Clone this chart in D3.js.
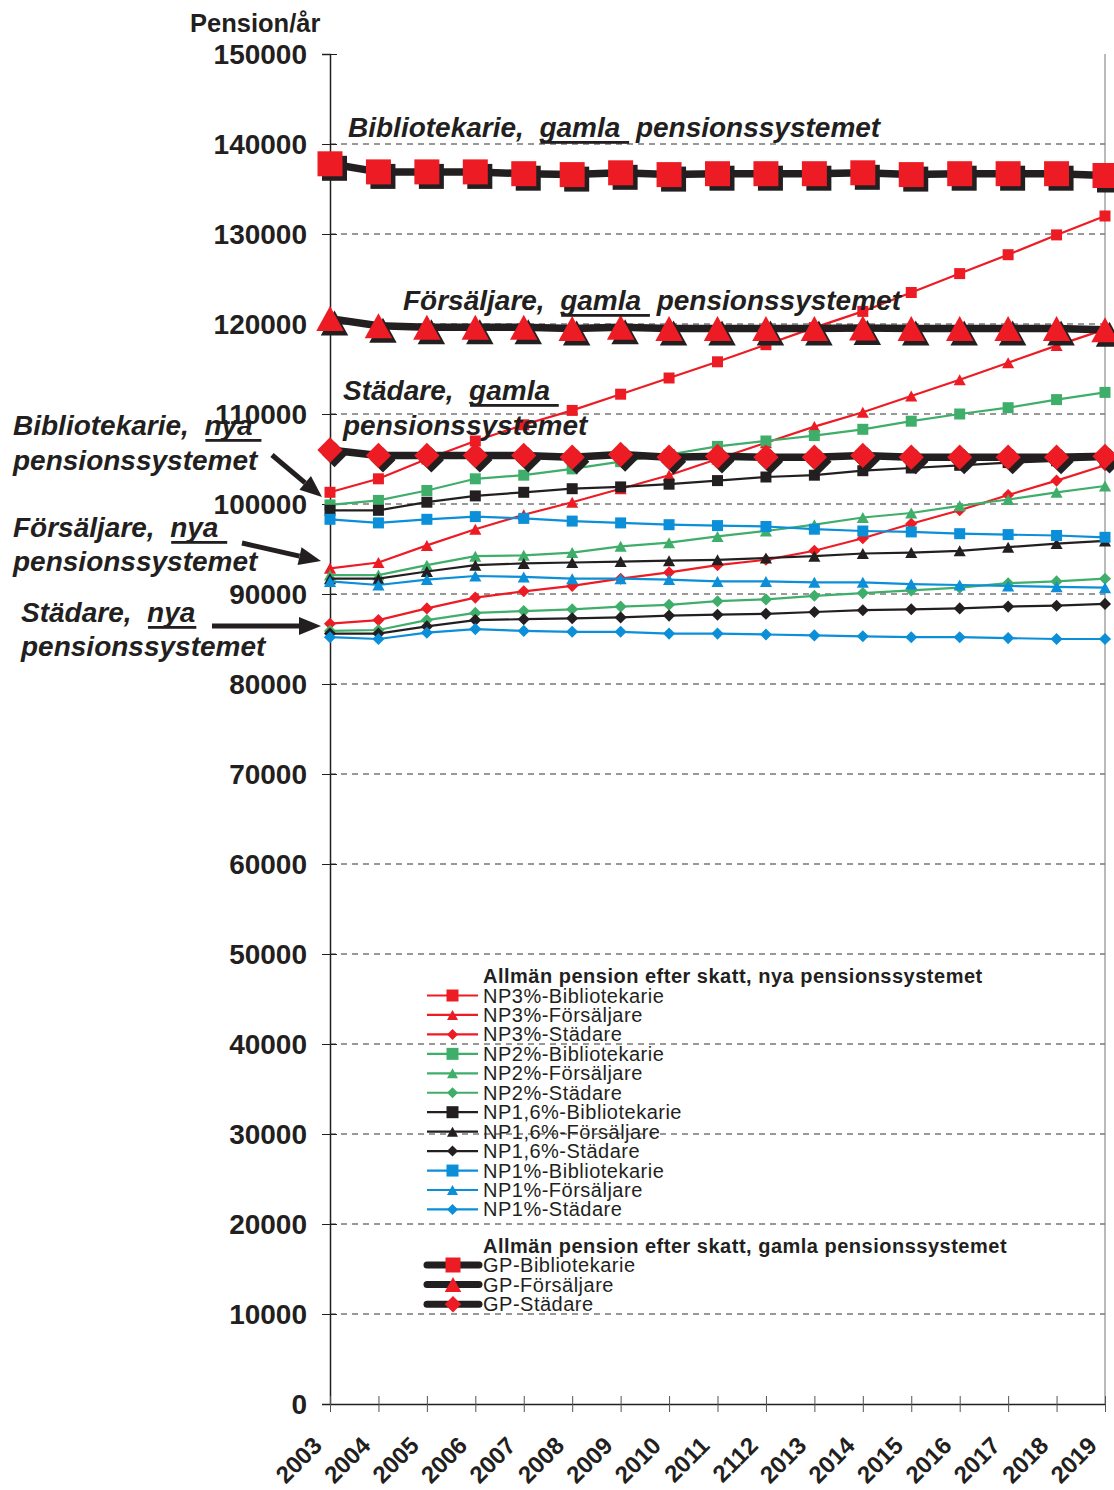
<!DOCTYPE html>
<html>
<head>
<meta charset="utf-8">
<script src="https://cdn.jsdelivr.net/npm/d3@7"></script>
<style>
  body { margin: 0; background: #fff; }
  svg { display: block; }
  text { font-family: "Liberation Sans", Arial, sans-serif; fill: #231f20; }
</style>
</head>
<body>
<svg id="chart" width="1114" height="1490"></svg>
<script>
// ---- data -------------------------------------------------------------
const years = ["2003","2004","2005","2006","2007","2008","2009","2010","2011",
               "2112","2013","2014","2015","2016","2017","2018","2019"];
const yTicks = [0,10000,20000,30000,40000,50000,60000,70000,80000,90000,
                100000,110000,120000,130000,140000,150000];

// Allmän pension efter skatt, nya pensionssystemet
const np3Bib  = [101300,102800,105000,107000,108800,110400,112200,114000,115800,117700,119600,121400,123500,125600,127700,129900,132000];
const np3For  = [92850,93500,95400,97200,98800,100200,101700,103200,105000,106800,108600,110200,112000,113800,115700,117600,119400];
const np3Sta  = [86700,87100,88400,89600,90300,90900,91700,92400,93200,93800,94800,96200,97800,99300,101000,102600,104300];
const np2Bib  = [99900,100400,101500,102800,103200,103900,104700,105500,106400,107000,107600,108300,109200,110000,110700,111600,112400];
const np2For  = [92100,92100,93200,94200,94300,94600,95300,95700,96400,97000,97700,98500,99000,99800,100500,101300,102000];
const np2Sta  = [85900,86000,87100,87900,88100,88300,88600,88800,89200,89400,89800,90100,90400,90700,91200,91400,91700];
const np16Bib = [99300,99300,100200,100900,101300,101700,101900,102200,102600,103000,103200,103700,104000,104300,104600,104800,105000];
const np16For = [91700,91700,92500,93200,93400,93500,93600,93700,93800,94000,94200,94500,94600,94800,95200,95600,95900];
const np16Sta = [85600,85600,86400,87100,87200,87300,87400,87600,87700,87800,88000,88200,88300,88400,88600,88700,88900];
const np1Bib  = [98300,97900,98300,98600,98400,98100,97900,97700,97600,97500,97200,97000,96900,96700,96600,96500,96300];
const np1For  = [91400,91000,91600,92000,91900,91700,91700,91600,91400,91400,91300,91300,91100,91000,90900,90800,90700];
const np1Sta  = [85200,85000,85700,86100,85900,85800,85800,85600,85600,85500,85400,85300,85200,85200,85100,85000,85000];

// Allmän pension efter skatt, gamla pensionssystemet
const gpBib = [137800,136900,136900,136900,136700,136600,136800,136600,136700,136700,136700,136800,136600,136700,136700,136700,136500];
const gpFor = [120600,119800,119650,119650,119650,119500,119650,119500,119500,119500,119500,119550,119500,119500,119500,119500,119350];
const gpSta = [106000,105400,105400,105400,105400,105200,105500,105200,105300,105200,105200,105400,105200,105200,105200,105200,105300];

const legendTitleNew = "Allmän pension efter skatt, nya pensionssystemet";
const legendTitleOld = "Allmän pension efter skatt, gamla pensionssystemet";
const yTitle = "Pension/år";

// ---- styling ----------------------------------------------------------
const RED = "#ed1c24", GREEN = "#3fae6a", BLACK = "#231f20", BLUE = "#0a8fd8";

const npSeries = [
  { name: "NP3%-Bibliotekarie",   color: RED,   shape: "square",   values: np3Bib },
  { name: "NP3%-Försäljare",      color: RED,   shape: "triangle", values: np3For },
  { name: "NP3%-Städare",         color: RED,   shape: "diamond",  values: np3Sta },
  { name: "NP2%-Bibliotekarie",   color: GREEN, shape: "square",   values: np2Bib },
  { name: "NP2%-Försäljare",      color: GREEN, shape: "triangle", values: np2For },
  { name: "NP2%-Städare",         color: GREEN, shape: "diamond",  values: np2Sta },
  { name: "NP1,6%-Bibliotekarie", color: BLACK, shape: "square",   values: np16Bib },
  { name: "NP1,6%-Försäljare",    color: BLACK, shape: "triangle", values: np16For },
  { name: "NP1,6%-Städare",       color: BLACK, shape: "diamond",  values: np16Sta },
  { name: "NP1%-Bibliotekarie",   color: BLUE,  shape: "square",   values: np1Bib },
  { name: "NP1%-Försäljare",      color: BLUE,  shape: "triangle", values: np1For },
  { name: "NP1%-Städare",         color: BLUE,  shape: "diamond",  values: np1Sta }
];
const gpSeries = [
  { name: "GP-Bibliotekarie", shape: "square",   values: gpBib },
  { name: "GP-Försäljare",    shape: "triangle", values: gpFor },
  { name: "GP-Städare",       shape: "diamond",  values: gpSta }
];

// marker outline centred on (0,0); s = nominal size in px
function markerPath(shape, s) {
  const h = s / 2;
  if (shape === "square")   return `M${-h},${-h}H${h}V${h}H${-h}Z`;
  if (shape === "triangle") return `M0,${-h}L${h * 1.1},${h}L${-h * 1.1},${h}Z`;
  return `M0,${-h * 1.1}L${h * 1.1},0L0,${h * 1.1}L${-h * 1.1},0Z`;
}

// ---- layout -----------------------------------------------------------
const svg = d3.select("#chart");
const x = d3.scalePoint().domain(years).range([330, 1105]);
const y = d3.scaleLinear().domain([0, 150000]).range([1404, 54]);

// grid lines
svg.append("g").selectAll("line")
  .data(yTicks.filter(v => v > 0 && v < 150000))
  .join("line")
  .attr("x1", 330).attr("x2", 1105)
  .attr("y1", d => y(d)).attr("y2", d => y(d))
  .attr("stroke", "#333").attr("stroke-width", 1)
  .attr("stroke-dasharray", "6,5");

// right frame line
svg.append("line")
  .attr("x1", 1105).attr("x2", 1105).attr("y1", y(150000)).attr("y2", y(0))
  .attr("stroke", "#777").attr("stroke-width", 1);

// y axis
const yAxis = svg.append("g").attr("transform", "translate(330,0)")
  .call(d3.axisLeft(y).tickValues(yTicks).tickFormat(d3.format("d")).tickSize(8).tickPadding(0));
yAxis.select(".domain").attr("stroke", BLACK).attr("stroke-width", 1.5);
yAxis.selectAll(".tick line").attr("x1", 7).attr("x2", -8).attr("stroke", BLACK);
yAxis.selectAll(".tick text")
  .attr("x", -23).attr("dy", "0.35em")
  .style("font-size", "28px").style("font-weight", "bold");

// x axis
const xAxis = svg.append("g").attr("transform", `translate(0,${y(0)})`)
  .call(d3.axisBottom(x).tickSize(8).tickSizeOuter(0));
xAxis.select(".domain").attr("stroke", BLACK).attr("stroke-width", 1.5);
xAxis.selectAll(".tick line").attr("y1", -8).attr("y2", 8).attr("stroke", "#555");
xAxis.selectAll(".tick text")
  .attr("x", 0).attr("y", 0).attr("dy", 0)
  .attr("text-anchor", "end")
  .attr("transform", "translate(-7,43) rotate(-45)")
  .style("font-size", "24px").style("font-weight", "bold");

// y axis title
svg.append("text").attr("x", 190).attr("y", 32)
  .style("font-size", "25.5px").style("font-weight", "bold").text(yTitle);

const line = d3.line().x((d, i) => x(years[i])).y(d => y(d));

// new-system series: thin coloured lines with small markers
const npG = svg.append("g");
npSeries.forEach(s => {
  npG.append("path").attr("d", line(s.values))
    .attr("fill", "none").attr("stroke", s.color).attr("stroke-width", 2.2);
  npG.append("g").selectAll("path").data(s.values).join("path")
    .attr("transform", (d, i) => `translate(${x(years[i])},${y(d)})`)
    .attr("d", markerPath(s.shape, 11))
    .attr("fill", s.color);
});

// old-system series: heavy black lines, large red markers with drop shadow
const gpG = svg.append("g");
gpSeries.forEach(s => {
  const size = s.shape === "diamond" ? 23 : 25;
  gpG.append("path").attr("d", line(s.values))
    .attr("fill", "none").attr("stroke", BLACK).attr("stroke-width", 7.5)
    .attr("stroke-linejoin", "round");
  gpG.append("g").selectAll("path").data(s.values).join("path")
    .attr("transform", (d, i) => `translate(${x(years[i]) + 4.5},${y(d) + 4.5})`)
    .attr("d", markerPath(s.shape, size)).attr("fill", BLACK);
  gpG.append("g").selectAll("path").data(s.values).join("path")
    .attr("transform", (d, i) => `translate(${x(years[i])},${y(d)})`)
    .attr("d", markerPath(s.shape, size)).attr("fill", RED);
});

// ---- legend -----------------------------------------------------------
const lg = svg.append("g");
const legX0 = 427, legX1 = 478, legText = 483;
const legFont = "20px", legSpacing = "0.5px";
lg.append("text").attr("x", legText).attr("y", 983)
  .style("font-size", legFont).style("letter-spacing", legSpacing)
  .style("font-weight", "bold").text(legendTitleNew);
npSeries.forEach((s, i) => {
  const ly = 995.5 + i * 19.45;
  lg.append("line").attr("x1", legX0).attr("x2", legX1).attr("y1", ly).attr("y2", ly)
    .attr("stroke", s.color).attr("stroke-width", 2.2);
  lg.append("path").attr("transform", `translate(${(legX0 + legX1) / 2},${ly})`)
    .attr("d", markerPath(s.shape, s.shape === "square" ? 12 : 10)).attr("fill", s.color);
  lg.append("text").attr("x", legText).attr("y", ly + 7)
    .style("font-size", legFont).style("letter-spacing", legSpacing).text(s.name);
});
lg.append("text").attr("x", legText).attr("y", 1253)
  .style("font-size", legFont).style("letter-spacing", legSpacing)
  .style("font-weight", "bold").text(legendTitleOld);
gpSeries.forEach((s, i) => {
  const ly = 1265 + i * 19.6;
  lg.append("line").attr("x1", 427).attr("x2", 479).attr("y1", ly).attr("y2", ly)
    .attr("stroke", BLACK).attr("stroke-width", 7).attr("stroke-linecap", "round");
  lg.append("path").attr("transform", `translate(453,${ly})`)
    .attr("d", markerPath(s.shape, 15)).attr("fill", RED);
  lg.append("text").attr("x", legText).attr("y", ly + 7)
    .style("font-size", legFont).style("letter-spacing", legSpacing).text(s.name);
});

// ---- annotations ------------------------------------------------------
const notes = [
  { x: 348, y: 137, parts: ["Bibliotekarie,  ", "gamla ", " pensionssystemet"] },
  { x: 403, y: 310, parts: ["Försäljare,  ", "gamla ", " pensionssystemet"] },
  { x: 343, y: 400, parts: ["Städare,  ", "gamla ", ""] },
  { x: 343, y: 435, parts: ["pensionssystemet", "", ""] },
  { x: 13,  y: 435, parts: ["Bibliotekarie,  ", "nya ", ""] },
  { x: 13,  y: 470, parts: ["pensionssystemet", "", ""] },
  { x: 13,  y: 537, parts: ["Försäljare,  ", "nya ", ""] },
  { x: 13,  y: 571, parts: ["pensionssystemet", "", ""] },
  { x: 21,  y: 622, parts: ["Städare,  ", "nya", ""] },
  { x: 21,  y: 656, parts: ["pensionssystemet", "", ""] }
];
const ag = svg.append("g");
notes.forEach(n => {
  const t = ag.append("text").attr("x", n.x).attr("y", n.y)
    .style("font-size", "28px").style("font-weight", "bold").style("font-style", "italic")
    .style("white-space", "pre")
    .text(n.parts.join(""));
  if (n.parts[1]) {
    const node = t.node();
    const start = n.parts[0].length;
    const x0 = node.getStartPositionOfChar(start).x;
    const w = node.getSubStringLength(start, n.parts[1].length);
    ag.append("rect").attr("x", x0 + 1).attr("y", n.y + 4).attr("width", w).attr("height", 2.8)
      .attr("fill", BLACK);
  }
});

// arrows pointing to the start of the new-system series
const arrows = [
  { from: [272, 455], to: [322, 497] },
  { from: [242, 543], to: [321, 561] },
  { from: [212, 626], to: [321, 626] }
];
arrows.forEach(a => {
  const [x1, y1] = a.from, [x2, y2] = a.to;
  const ang = Math.atan2(y2 - y1, x2 - x1);
  const L = 22, W = 9;
  const bx = x2 - L * Math.cos(ang), by = y2 - L * Math.sin(ang);
  ag.append("line").attr("x1", x1).attr("y1", y1).attr("x2", bx).attr("y2", by)
    .attr("stroke", BLACK).attr("stroke-width", 5);
  const px = -Math.sin(ang) * W, py = Math.cos(ang) * W;
  ag.append("path")
    .attr("d", `M${x2},${y2}L${bx + px},${by + py}L${bx - px},${by - py}Z`)
    .attr("fill", BLACK);
});
</script>
</body>
</html>
